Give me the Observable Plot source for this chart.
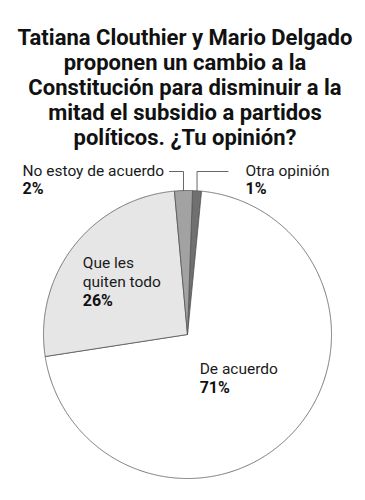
<!DOCTYPE html>
<html>
<head>
<meta charset="utf-8">
<script src="https://cdn.jsdelivr.net/npm/d3@7"></script>
<script src="https://cdn.jsdelivr.net/npm/@observablehq/plot@0.6"></script>
<style>
  html, body { margin: 0; padding: 0; background: #fff; }
  #title {
    box-sizing: border-box; height: 155px; width: 365px; padding-top: 25px; padding-left: 5px;
    font-family: Roboto, "Noto Sans", sans-serif; font-weight: 700; font-size: 22px;
    line-height: 25px; text-align: center; color: #111; white-space: nowrap;
  }
  #chart svg { display: block; }
</style>
</head>
<body>
<div id="title">Tatiana Clouthier y Mario Delgado<br>proponen un cambio a la<br>Constitución para disminuir a la<br>mitad el subsidio a partidos<br>políticos. ¿Tu opinión?</div>
<div id="chart"></div>
<script>
// ---- data ----
const categories = ["Otra opinión", "De acuerdo", "Que les quiten todo", "No estoy de acuerdo"];
const values = [1, 71, 26, 2];
const nameLines = [["Otra opinión"], ["De acuerdo"], ["Que les", "quiten todo"], ["No estoy de acuerdo"]];
const percentLabels = ["1%", "71%", "26%", "2%"];

// ---- layout ----
const W = 365, H = 345;
const cx = 187, cy = 179, R = 144;
const rot = 2 * Math.PI / 180;
const colors = ["#707070", "#ffffff", "#e6e6e6", "#a2a2a2"];
const lineH = 19.5;

const arcs = d3.pie().sort(null).value(d => d).startAngle(rot).endAngle(rot + 2 * Math.PI)(values);
const pt = (a, r) => [cx + r * Math.sin(a), cy - r * Math.cos(a)];

// slice polygons
const slicePts = [];
arcs.forEach((a, i) => {
  const cat = categories[i];
  slicePts.push({cat, x: cx, y: cy});
  const n = Math.max(2, Math.ceil((a.endAngle - a.startAngle) / (0.4 * Math.PI / 180)));
  for (let k = 0; k <= n; k++) {
    const ang = a.startAngle + (a.endAngle - a.startAngle) * k / n;
    const [x, y] = pt(ang, R);
    slicePts.push({cat, x, y});
  }
  slicePts.push({cat, x: cx, y: cy});
});

// label placement: inside labels polar, outside labels with leader lines
const mid = i => (arcs[i].startAngle + arcs[i].endAngle) / 2;
const texts = [];
const addBlock = (i, x, yTop) => {
  nameLines[i].forEach((t, k) => texts.push({t, x, y: yTop + k * lineH, bold: false}));
  texts.push({t: percentLabels[i], x, y: yTop + nameLines[i].length * lineH - 1, bold: true});
};
// inside labels
{
  const [x1, y1] = pt(mid(1), 58);
  addBlock(1, x1 - 30, y1);
  const [x2, y2] = pt(mid(2), 86);
  addBlock(2, x2 - 37, y2 - 14);
}
// outside labels + leader lines
const leaderY = 16;
const leaders = [];
{
  const [xa, ya] = pt(mid(3), R);
  leaders.push({id: "l", x: xa, y: ya}, {id: "l", x: xa, y: leaderY}, {id: "l", x: xa - 14, y: leaderY});
  addBlock(3, 22, 20);
  const [xb, yb] = pt(mid(0), R);
  leaders.push({id: "r", x: xb, y: yb}, {id: "r", x: xb, y: leaderY}, {id: "r", x: xb + 31, y: leaderY});
  addBlock(0, 245, 20);
}

const plot = Plot.plot({
  width: W, height: H, margin: 0,
  x: {domain: [0, W], range: [0, W], axis: null},
  y: {domain: [0, H], range: [0, H], axis: null},
  color: {domain: categories, range: colors},
  style: {fontFamily: "Roboto, 'Noto Sans', sans-serif", background: "#fff"},
  marks: [
    Plot.line(slicePts, {x: "x", y: "y", z: "cat", fill: "cat", stroke: "#555", strokeWidth: 0.8, strokeLinejoin: "round", curve: "linear"}),
    Plot.line(leaders, {x: "x", y: "y", z: "id", stroke: "#666", strokeWidth: 1}),
    Plot.text(texts.filter(d => !d.bold), {x: "x", y: "y", text: "t", textAnchor: "start", lineAnchor: "bottom", fontSize: 15.5, fill: "#1a1a1a"}),
    Plot.text(texts.filter(d => d.bold), {x: "x", y: "y", text: "t", textAnchor: "start", lineAnchor: "bottom", fontSize: 16, fontWeight: "bold", fill: "#111"})
  ]
});
document.getElementById("chart").appendChild(plot);
</script>
</body>
</html>
